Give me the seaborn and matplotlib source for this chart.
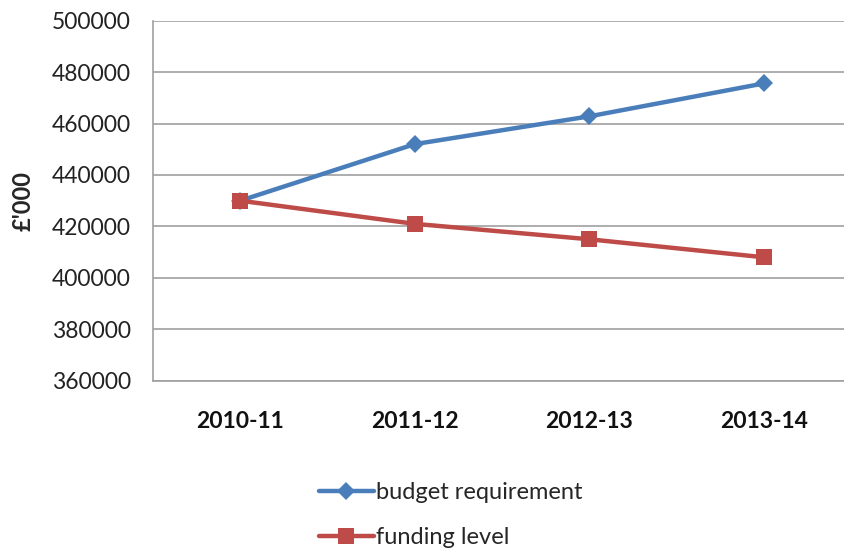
import matplotlib
matplotlib.use("Agg")
import matplotlib.pyplot as plt
import seaborn as sns
import pandas as pd

years = ["2010-11", "2011-12", "2012-13", "2013-14"]
budget_requirement = [430000, 452000, 462800, 475600]
funding_level = [430000, 421000, 415000, 408000]
series_names = ["budget requirement", "funding level"]
y_ticks = [360000, 380000, 400000, 420000, 440000, 460000, 480000, 500000]

df = pd.DataFrame({
    "year": years * 2,
    "value": budget_requirement + funding_level,
    "series": [series_names[0]] * 4 + [series_names[1]] * 4,
})

sns.set_theme(style="white")
plt.rcParams["font.family"] = ["Lato", "DejaVu Sans"]

fig = plt.figure(figsize=(8.45, 5.51), dpi=100)
ax = fig.add_axes([153/845, 1 - 380.7/551, (851 - 153)/845, (380.7 - 20.7)/551])

palette = {series_names[0]: "#4A7EBB", series_names[1]: "#BE4B48"}
markers = {series_names[0]: "D", series_names[1]: "s"}
sizes_ms = {series_names[0]: 9, series_names[1]: 12}

for name in series_names:
    sub = df[df["series"] == name]
    sns.lineplot(data=sub, x="year", y="value", ax=ax, color=palette[name],
                 marker=markers[name], markersize=sizes_ms[name], linewidth=3.2,
                 markeredgewidth=0, label=name, sort=False)

ax.set_ylim(360000, 500000)
ax.set_xlim(-0.5, 3.5)
ax.set_yticks(y_ticks)
ax.set_yticklabels([str(v) for v in y_ticks], fontsize=16.5, color="#222222")
ax.set_xticks(range(len(years)))
ax.set_xticklabels(years, fontsize=16.5, fontweight="bold", color="#111111")
ax.tick_params(axis="x", length=0, pad=22)
ax.tick_params(axis="y", length=0, pad=16)
ax.yaxis.grid(True, color="#A0A0A0", linewidth=1.2)
ax.set_axisbelow(True)
for s in ["top", "right"]:
    ax.spines[s].set_visible(False)
for s in ["left", "bottom"]:
    ax.spines[s].set_color("#A0A0A0")
    ax.spines[s].set_linewidth(1.2)
ax.set_xlabel("")
ax.set_ylabel("£'000", fontsize=17, fontweight="bold")
ax.yaxis.set_label_coords(-0.17, 0.5)

handles, labels = ax.get_legend_handles_labels()
ax.get_legend().remove()
fig.legend(handles, labels, loc="upper left", bbox_to_anchor=(298/845, 1 - 461/551),
           frameon=False, fontsize=17, handlelength=2.3, labelspacing=1.0,
           handletextpad=0.12)

fig.savefig("out.png", dpi=100)
